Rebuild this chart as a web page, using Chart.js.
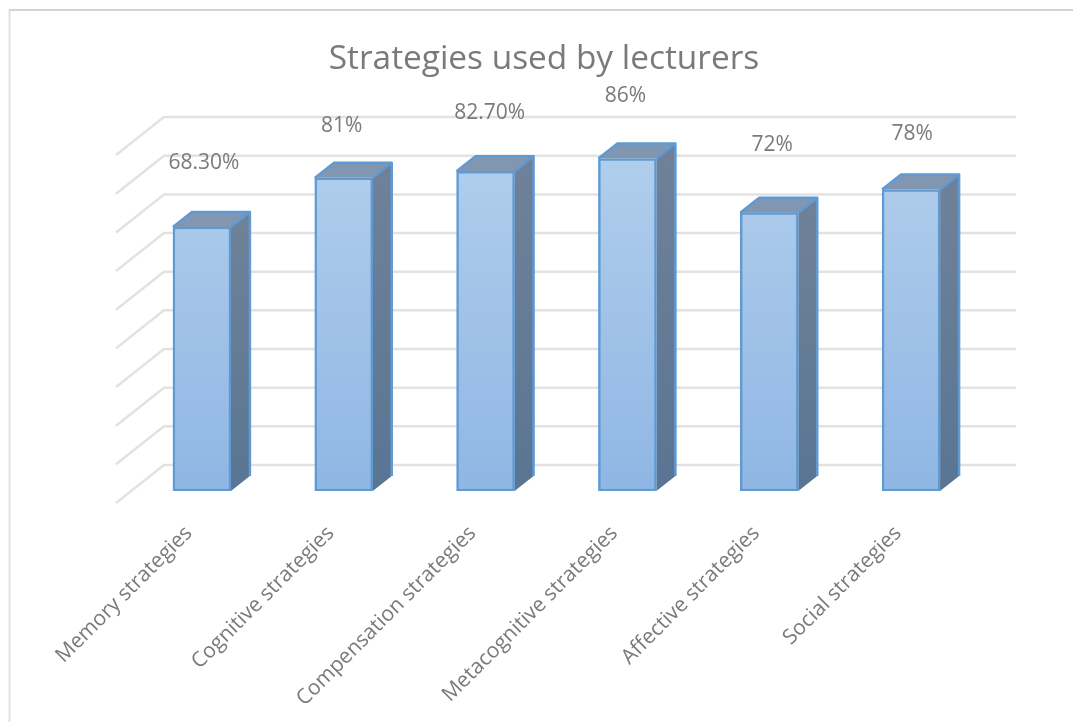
<!DOCTYPE html>
<html>
<head>
<meta charset="utf-8">
<title>Strategies used by lecturers</title>
<script src="https://cdn.jsdelivr.net/npm/chart.js@4"></script>
<style>
  html, body { margin: 0; padding: 0; background: #fff; overflow: hidden; }
  canvas { display: block; filter: blur(0.5px); }
</style>
</head>
<body>
<canvas id="myChart" width="1073" height="722"></canvas>
<script>
var categories = ['Memory strategies', 'Cognitive strategies', 'Compensation strategies',
    'Metacognitive strategies', 'Affective strategies', 'Social strategies'];
var values = [68.3, 81, 82.7, 86, 72, 78];
var valueLabels = ['68.30%', '81%', '82.70%', '86%', '72%', '78%'];

var textColor = '#7a7a7a';
var fontName = '"Open Sans", sans-serif';

// hand placed labels in the original, offset from bar centre / bar top
var labelShiftX = [2, -2, 4, -2, 3, 1];
var labelShiftY = [-64, -52, -58, -63, -68, -55];

// depth of the 3d box, front to back
var sideX = 19, sideY = -15;

function poly(ctx, pts, fill) {
    ctx.beginPath();
    ctx.moveTo(pts[0][0], pts[0][1]);
    for (var i = 1; i < pts.length; i++) ctx.lineTo(pts[i][0], pts[i][1]);
    ctx.closePath();
    ctx.fillStyle = fill;
    ctx.fill();
}

var frame = {
    id: 'frame',
    beforeDraw: function (chart) {
        var ctx = chart.ctx;
        ctx.save();
        ctx.lineWidth = 2;
        ctx.strokeStyle = '#e2e2e2';
        ctx.beginPath();
        ctx.moveTo(9.5, 722);
        ctx.lineTo(9.5, 10);
        ctx.stroke();
        ctx.strokeStyle = '#d4d4d4';
        ctx.beginPath();
        ctx.moveTo(9, 10);
        ctx.lineTo(1073, 10);
        ctx.stroke();
        ctx.restore();
    }
};

var walls = {
    id: 'walls',
    beforeDatasetsDraw: function (chart) {
        var ctx = chart.ctx, y = chart.scales.y, area = chart.chartArea;
        ctx.save();
        ctx.strokeStyle = '#e2e2e2';
        ctx.lineWidth = 2.5;
        y.ticks.forEach(function (t) {
            var py = y.getPixelForValue(t.value);
            ctx.beginPath();
            ctx.moveTo(area.left - 15, py + 12);
            ctx.lineTo(area.left + 33, py - 26);
            ctx.lineTo(area.right + 34, py - 26);
            ctx.stroke();
        });
        // side and top of each box, the front is the real bar
        chart.getDatasetMeta(0).data.forEach(function (bar) {
            var l = bar.x - bar.width / 2, r = bar.x + bar.width / 2;
            var t = bar.y, b = bar.base;
            var side = ctx.createLinearGradient(0, t, 0, b);
            side.addColorStop(0, '#6f8199');
            side.addColorStop(1, '#597593');
            poly(ctx, [[r, t], [r + sideX, t + sideY], [r + sideX, b + sideY], [r, b]], side);
            poly(ctx, [[l, t], [l + sideX, t + sideY], [r + sideX, t + sideY], [r, t]], '#8197b1');
            ctx.strokeStyle = '#5f9ad3';
            ctx.lineWidth = 2.5;
            ctx.lineJoin = 'round';
            ctx.beginPath();
            ctx.moveTo(l, t);
            ctx.lineTo(l + sideX, t + sideY);
            ctx.lineTo(r + sideX, t + sideY);
            ctx.lineTo(r + sideX, b + sideY);
            ctx.moveTo(r, t);
            ctx.lineTo(r + sideX, t + sideY);
            ctx.stroke();
        });
        ctx.restore();
    }
};

var barLabels = {
    id: 'barLabels',
    afterDatasetsDraw: function (chart) {
        var ctx = chart.ctx;
        ctx.save();
        ctx.font = '21px ' + fontName;
        ctx.fillStyle = textColor;
        ctx.textAlign = 'center';
        ctx.textBaseline = 'middle';
        chart.getDatasetMeta(0).data.forEach(function (bar, i) {
            ctx.fillText(valueLabels[i], bar.x + labelShiftX[i], bar.y + labelShiftY[i]);
        });
        ctx.restore();
    }
};

var ctx = document.getElementById('myChart').getContext('2d');

var myChart = new Chart(ctx, {
    type: 'bar',
    data: {
        labels: categories,
        datasets: [{
            label: 'Strategies used by lecturers',
            data: values,
            barThickness: 58,
            borderWidth: 2.5,
            borderColor: '#5f9ad3',
            borderSkipped: false,
            backgroundColor: function (c) {
                var area = c.chart.chartArea;
                if (!area) return '#a0c0e8';
                var g = c.chart.ctx.createLinearGradient(0, area.top, 0, area.bottom);
                g.addColorStop(0, '#b2cfec');
                g.addColorStop(1, '#8fb6e4');
                return g;
            }
        }]
    },
    options: {
        responsive: false,
        animation: false,
        // left is split with the hidden y axis so the title centres where it should
        layout: { padding: { left: 106, right: 91, top: 0, bottom: 0 } },
        plugins: {
            legend: { display: false },
            tooltip: { enabled: false },
            title: {
                display: true,
                text: 'Strategies used by lecturers',
                color: textColor,
                font: { family: fontName, size: 33.4, weight: 'normal' },
                padding: { top: 39, bottom: 64 }
            }
        },
        scales: {
            x: {
                grid: { display: false },
                border: { display: false },
                afterFit: function (s) { s.height = 231; },
                ticks: {
                    autoSkip: false,
                    minRotation: 45,
                    maxRotation: 45,
                    padding: 22,
                    labelOffset: -13,
                    color: textColor,
                    font: { family: fontName, size: 21 }
                }
            },
            y: {
                min: 0,
                max: 90,
                afterFit: function (s) { s.width = 25; },
                grid: { display: false },
                border: { display: false },
                ticks: { stepSize: 10, display: false }
            }
        }
    },
    plugins: [frame, walls, barLabels]
});
</script>
</body>
</html>
